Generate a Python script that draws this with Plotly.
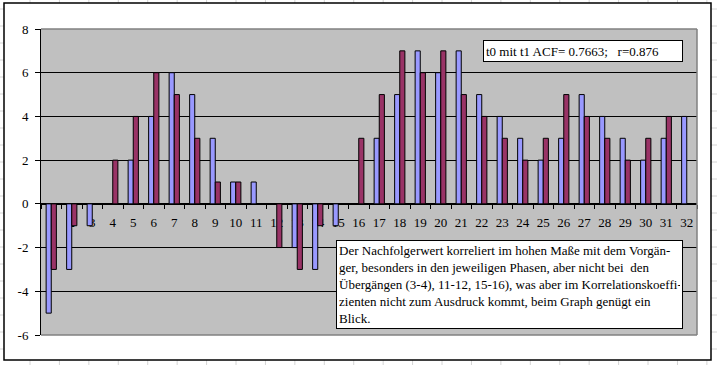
import plotly.graph_objects as go

categories = [str(i) for i in range(1, 33)]
t0_values = [-5, -3, -1, 0, 2, 4, 6, 5, 3, 1, 1, 0, -2, -3, -1, 0,
             3, 5, 7, 6, 7, 5, 4, 3, 2, 3, 5, 4, 3, 2, 3, 4]
t1_values = [-3, -1, 0, 2, 4, 6, 5, 3, 1, 1, 0, -2, -3, -1, 0, 3,
             5, 7, 6, 7, 5, 4, 3, 2, 3, 5, 4, 3, 2, 3, 4, None]
y_tick_values = [-6, -4, -2, 0, 2, 4, 6, 8]
y_tick_labels = ["-6", "-4", "-2", "0", "2", "4", "6", "8"]
info_text = "t0 mit t1 ACF= 0.7663;   r=0.876"
note_text = ("Der Nachfolgerwert korreliert im hohen Maße mit dem Vorgän-<br>"
             "ger, besonders in den jeweiligen Phasen, aber nicht bei  den<br>"
             "Übergängen (3-4), 11-12, 15-16), was aber im Korrelationskoeffi-<br>"
             "zienten nicht zum Ausdruck kommt, beim Graph genügt ein<br>"
             "Blick.")

W, H = 717, 365
L, R, T, B = 41, 697, 29, 335
FONT = "Liberation Serif"


def px_x(x):
    return (x - L) / (R - L)


def px_y(y):
    return (B - y) / (B - T)


fig = go.Figure()
fig.add_trace(go.Bar(x=categories, y=t0_values, name="t0",
                     marker=dict(color="#9999FF", line=dict(color="black", width=1))))
fig.add_trace(go.Bar(x=categories, y=t1_values, name="t1",
                     marker=dict(color="#993366", line=dict(color="black", width=1))))

shapes = []
# spreadsheet grid outside the chart frame
col_x = [30 + 29.43 * k for k in range(0, 24)]
for cx in col_x:
    for (ya, yb) in [(0, 3), (360, 365)]:
        shapes.append(dict(type="line", xref="paper", yref="paper",
                           x0=px_x(cx), x1=px_x(cx), y0=px_y(ya), y1=px_y(yb),
                           line=dict(color="#D4D4D4", width=1), layer="below"))
row_y = [9 + 17 * k for k in range(0, 22)]
for ry in row_y:
    for (xa, xb) in [(0, 4), (711, 717)]:
        shapes.append(dict(type="line", xref="paper", yref="paper",
                           x0=px_x(xa), x1=px_x(xb), y0=px_y(ry), y1=px_y(ry),
                           line=dict(color="#D4D4D4", width=1), layer="below"))
# chart frame
shapes.append(dict(type="rect", xref="paper", yref="paper",
                   x0=px_x(4), x1=px_x(711), y0=px_y(360), y1=px_y(3),
                   line=dict(color="black", width=1.5), layer="below"))
# plot area border (top, right, bottom) grey
for (x0, y0, x1, y1) in [(0, 1, 1, 1), (1, 0, 1, 1), (0, 0, 1, 0)]:
    shapes.append(dict(type="line", xref="paper", yref="paper",
                       x0=x0, y0=y0, x1=x1, y1=y1,
                       line=dict(color="#808080", width=1.5), layer="above"))

annotations = [
    dict(xref="paper", yref="paper", x=px_x(483), y=px_y(40),
         xanchor="left", yanchor="top", text=info_text, showarrow=False,
         align="left", font=dict(family=FONT, size=13, color="black"),
         bgcolor="white", bordercolor="black", borderwidth=1, borderpad=2,
         width=194, height=16),
    dict(xref="paper", yref="paper", x=px_x(336), y=px_y(240),
         xanchor="left", yanchor="top", text=note_text, showarrow=False,
         align="left", font=dict(family=FONT, size=13, color="black"),
         bgcolor="white", bordercolor="black", borderwidth=1, borderpad=2,
         width=341, height=83),
]

fig.update_layout(
    width=W, height=H,
    margin=dict(l=L, r=W - R, t=T, b=H - B, pad=0, autoexpand=False),
    paper_bgcolor="white", plot_bgcolor="#C0C0C0",
    barmode="group", bargap=0.5, bargroupgap=0,
    showlegend=False,
    font=dict(family=FONT, size=13, color="black"),
    shapes=shapes, annotations=annotations,
    xaxis=dict(type="category", anchor="free", position=6 / 14,
               showline=True, linecolor="black", linewidth=1,
               ticks="outside", ticklen=4, tickcolor="black", tickson="boundaries",
               showgrid=False, zeroline=False, tickangle=0, automargin=False,
               ticklabelstandoff=7, layer="below traces",
               tickfont=dict(family=FONT, size=13, color="black")),
    yaxis=dict(range=[-6, 8], tickvals=y_tick_values, ticktext=y_tick_labels,
               showline=True, linecolor="black", linewidth=1,
               ticks="outside", ticklen=5, tickcolor="black",
               showgrid=True, gridcolor="black", gridwidth=1, zeroline=False,
               automargin=False,
               tickfont=dict(family=FONT, size=13, color="black"),
               ticklabelstandoff=4),
)

fig.write_html("out.html", config={"displayModeBar": False},
               post_script="document.body.style.margin='0';document.body.style.overflow='hidden';")
